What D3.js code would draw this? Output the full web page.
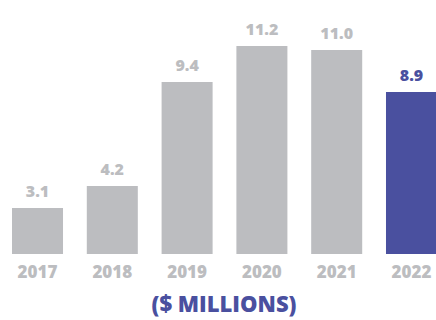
<!DOCTYPE html>
<html>
<head>
<meta charset="utf-8">
<script src="https://cdn.jsdelivr.net/npm/d3@7"></script>
<style>
  html, body { margin: 0; padding: 0; background: #fff; }
  svg { display: block; }
  text { font-family: "Open Sans", Lato, sans-serif; font-weight: 800; }
</style>
</head>
<body>
<svg id="chart"></svg>
<script>
const width = 436;
const height = 320;

// Data
const years = ["2017", "2018", "2019", "2020", "2021", "2022"];
const values = [3.1, 4.2, 9.4, 11.2, 11.0, 8.9];
const valueLabels = ["3.1", "4.2", "9.4", "11.2", "11.0", "8.9"];
const unitLabel = "($ MILLIONS)";

const gray = "#bcbdc0";
const blue = "#4a509f";

const svg = d3.select("#chart")
    .attr("width", width)
    .attr("height", height);

const x = d3.scaleBand()
    .domain(years)
    .range([12, 437])
    .paddingInner(0.318)
    .paddingOuter(0);

// baseline of bars at 254
const y = d3.scaleLinear()
    .domain([0.8, 11.2])
    .range([254, 46]);

const data = years.map((yr, i) => ({ year: yr, value: values[i], label: valueLabels[i], last: i === years.length - 1 }));

svg.selectAll(".bar")
    .data(data)
    .enter()
    .append("rect")
    .attr("class", "bar")
    .attr("x", d => x(d.year))
    .attr("y", d => y(d.value))
    .attr("width", x.bandwidth())
    .attr("height", d => y(0.8) - y(d.value))
    .attr("fill", d => d.last ? blue : gray);

// value labels above bars
svg.selectAll(".val")
    .data(data)
    .enter()
    .append("text")
    .attr("class", "val")
    .attr("x", d => x(d.year) + x.bandwidth() / 2)
    .attr("y", d => y(d.value) - 11)
    .attr("text-anchor", "middle")
    .attr("font-size", 16)
    .attr("fill", d => d.last ? blue : gray)
    .text(d => d.label);

// year labels (x axis, no line)
const xAxis = d3.axisBottom(x).tickSize(0).tickPadding(0);
const gx = svg.append("g")
    .attr("transform", "translate(0,278)")
    .call(xAxis);
gx.select(".domain").remove();
gx.selectAll("text")
    .attr("dy", 0)
    .attr("font-size", 17)
    .attr("fill", gray)
    .style("font-family", "'Open Sans', sans-serif")
    .style("font-weight", 800);

svg.append("text")
    .attr("x", 224)
    .attr("y", 312)
    .attr("text-anchor", "middle")
    .attr("font-size", 22)
    .attr("fill", blue)
    .text(unitLabel);
</script>
</body>
</html>
